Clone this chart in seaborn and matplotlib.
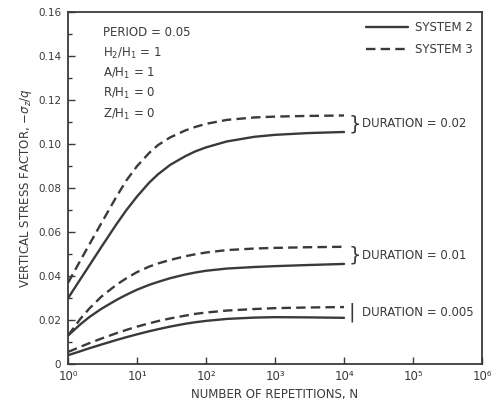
import numpy as np
import pandas as pd
import matplotlib
matplotlib.use("Agg")
import matplotlib.pyplot as plt
from matplotlib.ticker import FixedLocator, MultipleLocator, FuncFormatter
from matplotlib.lines import Line2D
import seaborn as sns

# repetitions N
n_reps = [1, 1.5, 2, 3, 5, 7, 10, 15, 20, 30, 50, 70, 100, 200, 500, 1000, 3000, 10000]

# duration = 0.02
sys2_d002 = [0.0300, 0.0385, 0.0445, 0.0530, 0.0635, 0.0700, 0.0762, 0.0825, 0.0862, 0.0905,
             0.0945, 0.0967, 0.0985, 0.1012, 0.1033, 0.1042, 0.1050, 0.1055]
sys3_d002 = [0.0370, 0.0470, 0.0540, 0.0638, 0.0760, 0.0835, 0.0900, 0.0960, 0.0995, 0.1030,
             0.1062, 0.1078, 0.1092, 0.1110, 0.1121, 0.1125, 0.1128, 0.1130]
# duration = 0.01
sys2_d001 = [0.0130, 0.0180, 0.0212, 0.0250, 0.0291, 0.0315, 0.0338, 0.0360, 0.0373, 0.0390,
             0.0407, 0.0416, 0.0424, 0.0434, 0.0441, 0.0445, 0.0450, 0.0455]
sys3_d001 = [0.0130, 0.0205, 0.0250, 0.0305, 0.0360, 0.0390, 0.0418, 0.0443, 0.0457, 0.0473,
             0.0490, 0.0499, 0.0507, 0.0518, 0.0525, 0.0528, 0.0531, 0.0533]
# duration = 0.005
sys2_d0005 = [0.0040, 0.0058, 0.0071, 0.0088, 0.0109, 0.0122, 0.0135, 0.0149, 0.0158, 0.0170,
              0.0183, 0.0190, 0.0196, 0.0205, 0.0211, 0.0213, 0.0212, 0.0210]
sys3_d0005 = [0.0055, 0.0078, 0.0094, 0.0115, 0.0140, 0.0155, 0.0170, 0.0185, 0.0195, 0.0207,
              0.0220, 0.0228, 0.0234, 0.0243, 0.0250, 0.0254, 0.0257, 0.0259]

x_ticks = [1, 10, 100, 1000, 10000, 100000, 1000000]

durations = ["0.02", "0.01", "0.005"]
curves = {
    ("0.02", "SYSTEM 2"): sys2_d002, ("0.02", "SYSTEM 3"): sys3_d002,
    ("0.01", "SYSTEM 2"): sys2_d001, ("0.01", "SYSTEM 3"): sys3_d001,
    ("0.005", "SYSTEM 2"): sys2_d0005, ("0.005", "SYSTEM 3"): sys3_d0005,
}

rows = []
for (dur, system), vals in curves.items():
    for n, v in zip(n_reps, vals):
        rows.append({"duration": dur, "system": system, "N": n, "stress": v})
df = pd.DataFrame(rows)

sns.set_style("ticks")
plt.rcParams["font.family"] = ["DejaVu Sans"]
ink = "#3a3a3a"
dash = (0, (4, 2.2))
sup = str.maketrans("0123456789", "⁰¹²³⁴⁵⁶⁷⁸⁹")

fig = plt.figure(figsize=(5.01, 4.04), dpi=100)
ax = fig.add_axes([0.136, 0.099, 0.826, 0.871])

for dur in durations:
    for system in ["SYSTEM 2", "SYSTEM 3"]:
        sub = df[(df["duration"] == dur) & (df["system"] == system)]
        sns.lineplot(data=sub, x="N", y="stress", ax=ax, color=ink, lw=1.7,
                     linestyle="-" if system == "SYSTEM 2" else dash,
                     legend=False)

ax.set_xscale("log")
ax.set_xlim(1, 1e6)
ax.set_ylim(0, 0.16)
ax.xaxis.set_major_locator(FixedLocator(x_ticks))
ax.xaxis.set_minor_locator(plt.NullLocator())
ax.xaxis.set_major_formatter(FuncFormatter(lambda v, p: "10" + str(int(round(np.log10(v)))).translate(sup)))
ax.yaxis.set_major_locator(MultipleLocator(0.02))
ax.yaxis.set_minor_locator(MultipleLocator(0.01))
ax.yaxis.set_major_formatter(FuncFormatter(lambda v, p: "0" if v == 0 else f"{v:.2f}"))
ax.tick_params(which="both", direction="in", colors=ink, labelsize=7.5, pad=5)
ax.tick_params(axis="x", labelsize=8.5, pad=4)
ax.tick_params(which="major", length=5, width=1)
ax.tick_params(which="minor", length=3, width=1)
for sp in ax.spines.values():
    sp.set_color(ink)
    sp.set_linewidth(1.3)

ax.set_xlabel("NUMBER OF REPETITIONS, N", fontsize=8.5, color=ink, labelpad=4)
ax.set_ylabel(r"VERTICAL STRESS FACTOR, $-\sigma_z/q$", fontsize=8.5, color=ink, labelpad=3)

# parameters block
params = ["PERIOD = 0.05", r"H$_2$/H$_1$ = 1", r"A/H$_1$ = 1", r"R/H$_1$ = 0", r"Z/H$_1$ = 0"]
for i, s in enumerate(params):
    ax.text(0.085, 0.96 - i * 0.057, s, transform=ax.transAxes, fontsize=8.5,
            color=ink, va="top")

# duration labels with braces
for dur in durations:
    hi = curves[(dur, "SYSTEM 3")][-1]
    lo = curves[(dur, "SYSTEM 2")][-1]
    mid = (hi + lo) / 2
    brace = "|" if dur == "0.005" else "}"
    ax.text(1.15e4, mid, brace, fontsize=14, color=ink, va="center", ha="left")
    ax.text(1.8e4, mid, f"DURATION = {dur}", fontsize=8.5, color=ink, va="center", ha="left")

handles = [Line2D([], [], color=ink, lw=1.7, linestyle="-"),
           Line2D([], [], color=ink, lw=1.7, linestyle=dash)]
leg = ax.legend(handles, ["SYSTEM 2", "SYSTEM 3"], loc="upper right", frameon=False,
                fontsize=8.5, handlelength=3.6, handletextpad=0.6, labelspacing=0.75,
                borderaxespad=0.35)
for t in leg.get_texts():
    t.set_color(ink)

fig.savefig("out.png", dpi=100)
